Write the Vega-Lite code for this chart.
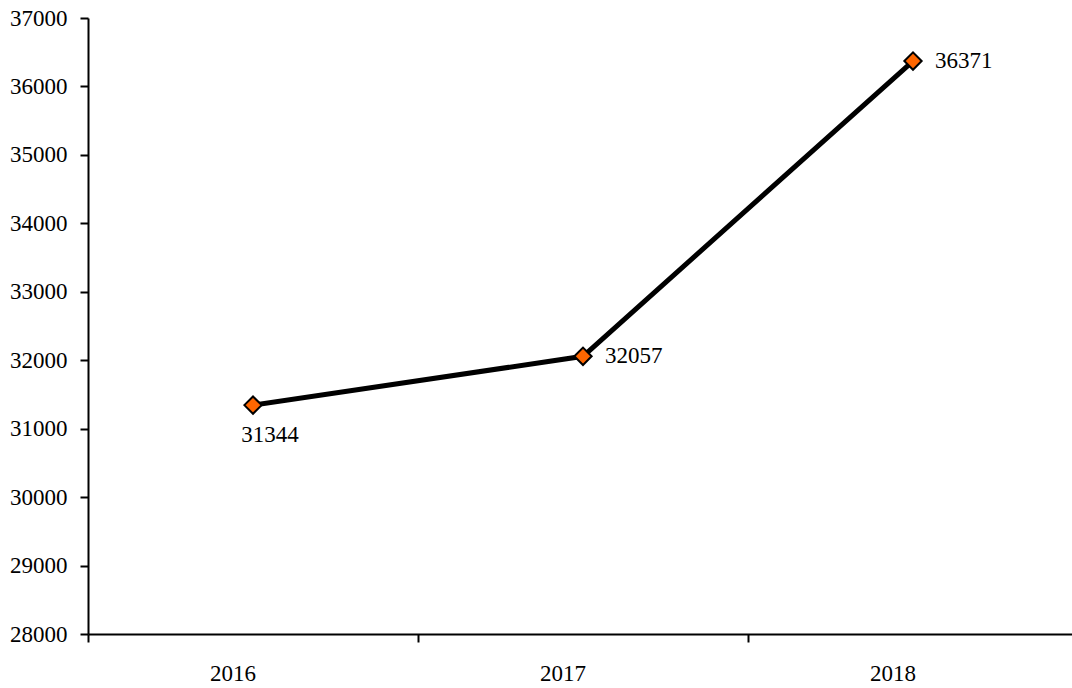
{
  "$schema": "https://vega.github.io/schema/vega-lite/v6.json",
  "width": 984,
  "height": 616,
  "autosize": "none",
  "padding": {"left": 88, "top": 18, "right": 0, "bottom": 54},
  "background": "white",
  "config": {"view": {"stroke": null}, "font": "Liberation Serif"},
  "data": {"values": [
    {"year": "2016", "value": 31344},
    {"year": "2017", "value": 32057},
    {"year": "2018", "value": 36371}
  ]},
  "encoding": {
    "x": {
      "field": "year", "type": "ordinal",
      "scale": {"type": "band", "range": [0, 990], "paddingInner": 0, "paddingOuter": 0},
      "axis": {"title": null, "labelAngle": 0, "bandPosition": 0, "labelOffset": -20, "tickSize": 8, "tickWidth": 2, "tickColor": "black", "domainColor": "black", "domainWidth": 2, "labelFontSize": 23, "labelColor": "black", "labelFont": "Liberation Serif", "labelPadding": 20, "grid": false}
    },
    "y": {
      "field": "value", "type": "quantitative",
      "scale": {"domain": [28000, 37000], "nice": false, "zero": false},
      "axis": {"title": null, "values": [28000, 29000, 30000, 31000, 32000, 33000, 34000, 35000, 36000, 37000], "format": "d", "grid": false, "domainColor": "black", "domainWidth": 2, "tickColor": "black", "tickWidth": 2, "tickSize": 8, "labelFontSize": 23, "labelColor": "black", "labelFont": "Liberation Serif", "labelPadding": 13}
    }
  },
  "layer": [
    {"mark": {"type": "line", "color": "black", "strokeWidth": 5}},
    {"mark": {"type": "point", "shape": "diamond", "filled": true, "fill": "#FF6600", "stroke": "black", "strokeWidth": 2, "size": 300, "opacity": 1}},
    {"transform": [{"filter": "datum.year != '2016'"}], "mark": {"type": "text", "align": "left", "baseline": "middle", "dx": 22, "fontSize": 23, "color": "black"}, "encoding": {"text": {"field": "value", "type": "quantitative", "format": "d"}}},
    {"transform": [{"filter": "datum.year == '2016'"}], "mark": {"type": "text", "align": "center", "baseline": "middle", "dx": 17, "dy": 30, "fontSize": 23, "color": "black"}, "encoding": {"text": {"field": "value", "type": "quantitative", "format": "d"}}}
  ]
}
